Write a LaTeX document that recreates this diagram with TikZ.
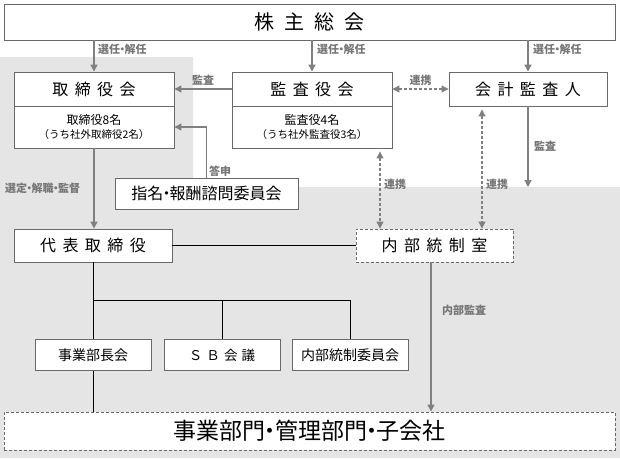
\documentclass[tikz,border=0pt]{standalone}
\usepackage{fontspec}
\setmainfont{Noto Sans CJK JP}
\usetikzlibrary{arrows.meta}
\definecolor{bggray}{RGB}{229,229,229}
\definecolor{boxgray}{RGB}{105,105,105}
\definecolor{arrgray}{RGB}{128,128,128}
\definecolor{lblgray}{RGB}{118,118,118}
\newcommand{\fs}[1]{\fontsize{#1}{#1}\selectfont}
\newcommand{\gp}{\hspace{0.4em}}
\newcommand{\nd}{\kern-0.3em・\kern-0.3em}
\begin{document}
\begin{tikzpicture}[x=1pt,y=-1pt,
  box/.style={draw=boxgray, fill=white, line width=0.9pt, inner sep=0pt, align=center},
  dbox/.style={box, dashed, dash pattern=on 3pt off 2pt},
  lbl/.style={text=lblgray, font=\fs{11}\bfseries, inner sep=1pt},
  arr/.style={draw=arrgray, line width=1.3pt, -{Triangle[length=7pt,width=7pt]}},
  darr/.style={draw=arrgray, line width=1.1pt, dash pattern=on 3pt off 2pt, {Triangle[length=7pt,width=7pt]}-{Triangle[length=7pt,width=7pt]}},
  tree/.style={draw=black, line width=0.9pt}]
\useasboundingbox (0,0) rectangle (620,458);
\fill[bggray] (0,57) -- (193,57) -- (193,187) -- (620,187) -- (620,458) -- (0,458) -- cycle;

% nodes
\node[box, minimum width=611, minimum height=36] (agm) at (309.5,22) {\fs{20}株\hspace{0.5em}主\hspace{0.5em}総\hspace{0.5em}会};
\node[box, minimum width=160, minimum height=34] (tb) at (94,89) {\fs{16}取\gp 締\gp 役\gp 会};
\node[box, minimum width=160, minimum height=42] (tbb) at (94,127) {\fs{12}取締役8名\\[2pt]\fs{10.5}（うち社外取締役2名）};
\node[box, minimum width=160, minimum height=34] (ka) at (312,89) {\fs{16}監\gp 査\gp 役\gp 会};
\node[box, minimum width=160, minimum height=42] (kab) at (312,127) {\fs{12}監査役4名\\[2pt]\fs{10.5}（うち社外監査役3名）};
\node[box, minimum width=158, minimum height=34] (ca) at (528,89) {\fs{16}会\gp 計\gp 監\gp 査\gp 人};
\node[box, minimum width=183, minimum height=31] (nom) at (206.5,193.5) {\fs{16}指名\nd 報酬諮問委員会};
\node[box, minimum width=158, minimum height=33] (rep) at (93,245.5) {\fs{16}代\gp 表\gp 取\gp 締\gp 役};
\node[dbox, minimum width=157, minimum height=33] (ic) at (434.5,245.5) {\fs{16}内\gp 部\gp 統\gp 制\gp 室};
\node[box, minimum width=116, minimum height=31] (b1) at (93,355) {\fs{14}事業部長会};
\node[box, minimum width=116, minimum height=31] (b2) at (222,355) {\fs{13.5}Ｓ\hspace{0.3em}Ｂ\hspace{0.3em}会\hspace{0.3em}議};
\node[box, minimum width=116, minimum height=31] (b3) at (350,355) {\fs{14}内部統制委員会};
\node[dbox, minimum width=611, minimum height=38] (biz) at (309.5,431) {\fs{23}事業部門\nd 管理部門\nd 子会社};

% coordinates
\coordinate (j) at (0,300);
\coordinate (x1) at (380,0);
\coordinate (x2) at (482,0);
\coordinate (x3) at (431,0);
\coordinate (audEnd) at (528,187);

% arrows from AGM
\draw[arr] (agm.south -| tb.north) -- (tb.north);
\draw[arr] (agm.south -| ka.north) -- (ka.north);
\draw[arr] (agm.south -| ca.north) -- (ca.north);
\node[lbl, anchor=west] (l1) at (97,49) {選任\nd 解任};
\node[lbl, anchor=west] (l2) at (316,49) {選任\nd 解任};
\node[lbl, anchor=west] (l3) at (532,49) {選任\nd 解任};

% audit / cooperation
\draw[arr] (ka.west) -- (tb.east) node[midway, above=2pt, lbl] (l4) {監査};
\draw[darr] (ka.east) -- (ca.west) node[midway, above=2pt, lbl] (l5) {連携};
\draw[arr] (nom.north) |- (tbb.east);
\node[lbl, anchor=west] (l6) at (208,171) {答申};
\draw[arr] (tbb.south) -- (tbb.south |- rep.north);
\node[lbl, anchor=west] (l7) at (4,188) {選定\nd 解職\nd 監督};
\draw[darr] (kab.south -| x1) ++(0,3) -- (ic.north -| x1);
\node[lbl, anchor=west] (l8) at (383,184) {連携};
\draw[darr] (ca.south -| x2) ++(0,3) -- (ic.north -| x2);
\node[lbl, anchor=west] (l9) at (485,184) {連携};
\draw[arr] (ca.south) -- (audEnd);
\node[lbl, anchor=west] (l10) at (533,146) {監査};

% tree
\draw[tree] (rep.east) -- (ic.west);
\draw[tree] (rep.south) -- (b1.north);
\draw[tree] (rep.south |- j) -- (b3.north |- j) -- (b3.north);
\draw[tree] (b2.north |- j) -- (b2.north);
\draw[tree] (b1.south) -- (b1.south |- biz.north);
\draw[arr] (ic.south -| x3) -- (biz.north -| x3);
\node[lbl, anchor=west] (l11) at (441,310) {内部監査};
\end{tikzpicture}
\end{document}
